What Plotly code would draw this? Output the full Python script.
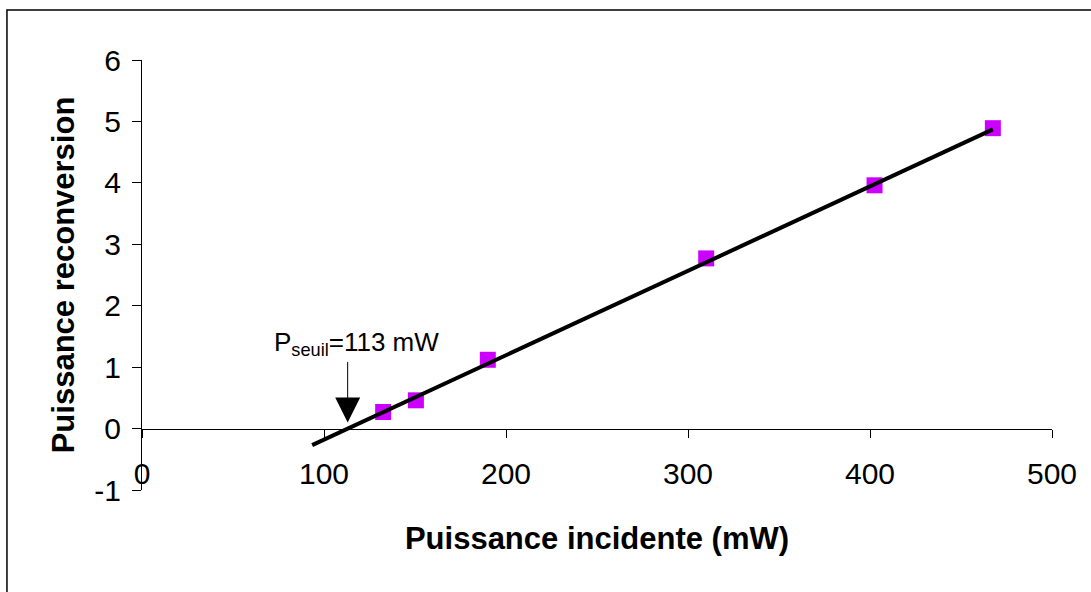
import plotly.graph_objects as go

# Data
p_incidente = [132.5, 150.5, 190, 310, 402.5, 467.5]
p_reconversion = [0.27, 0.46, 1.12, 2.77, 3.96, 4.89]

fit_x = [93.5, 467.5]
fit_y = [-0.27, 4.87]

seuil_x = 113
seuil_tip_y = 0.1
seuil_label_y = 1.38
seuil_label = "P<sub>seuil</sub>=113 mW"

x_ticks = [0, 100, 200, 300, 400, 500]
x_ticktext = ["0", "100", "200", "300", "400", "500"]
y_ticks = [-1, 0, 1, 2, 3, 4, 5, 6]
y_ticktext = ["-1", "0", "1", "2", "3", "4", "5", "6"]

FONT = "Arial, 'Liberation Sans', sans-serif"

fig = go.Figure()
fig.add_trace(go.Scatter(
    x=p_incidente, y=p_reconversion, mode="markers",
    marker=dict(symbol="square", size=16, color="#CC00FF",
                line=dict(width=0)),
    showlegend=False, cliponaxis=False,
))
fig.add_trace(go.Scatter(
    x=fit_x, y=fit_y, mode="lines",
    line=dict(color="black", width=4),
    showlegend=False,
))

# arrow
fig.add_annotation(
    x=seuil_x, y=seuil_tip_y, xref="x", yref="y",
    text="", showarrow=True,
    ax=0, ay=-62, axref="pixel", ayref="pixel",
    arrowhead=2, arrowsize=5, arrowwidth=1, arrowcolor="black",
)
# label
fig.add_annotation(
    x=seuil_x, y=seuil_label_y, xref="x", yref="y",
    text=seuil_label, showarrow=False, xshift=9,
    font=dict(family=FONT, size=26, color="black"),
)

# outer chart border
fig.add_shape(type="rect", xref="paper", yref="paper",
              x0=-0.1484, x1=1.2, y0=-0.4, y1=1.1163,
              line=dict(color="black", width=1.5), fillcolor="rgba(0,0,0,0)",
              layer="below")

fig.update_layout(
    width=1091, height=592,
    margin=dict(l=142, r=39, t=60, b=102),
    paper_bgcolor="white", plot_bgcolor="white",
    font=dict(family=FONT, color="black"),
    hovermode=False,
    xaxis=dict(
        range=[0, 500], tickvals=x_ticks, ticktext=x_ticktext,
        anchor="free", position=1/7,
        showline=True, linecolor="black", linewidth=1,
        ticks="outside", ticklen=8, tickcolor="black", tickwidth=1,
        showgrid=False, zeroline=False,
        tickfont=dict(family=FONT, size=30, color="black"),
        ticklabelstandoff=10,
        title=dict(text="<b>Puissance incidente (mW)</b>",
                   font=dict(family=FONT, size=31, color="black"),
                   standoff=38),
    ),
    yaxis=dict(
        range=[-1, 6], tickvals=y_ticks, ticktext=y_ticktext,
        showline=True, linecolor="black", linewidth=1,
        ticks="outside", ticklen=9, tickcolor="black", tickwidth=1,
        showgrid=False, zeroline=False,
        tickfont=dict(family=FONT, size=30, color="black"),
        ticklabelstandoff=5,
        title=dict(text="<b>Puissance reconversion</b>",
                   font=dict(family=FONT, size=31, color="black"),
                   standoff=10),
    ),
)

fig.write_html(
    "out.html",
    config={"displayModeBar": False},
    post_script="document.body.style.margin='0';document.body.style.overflow='hidden';",
)
